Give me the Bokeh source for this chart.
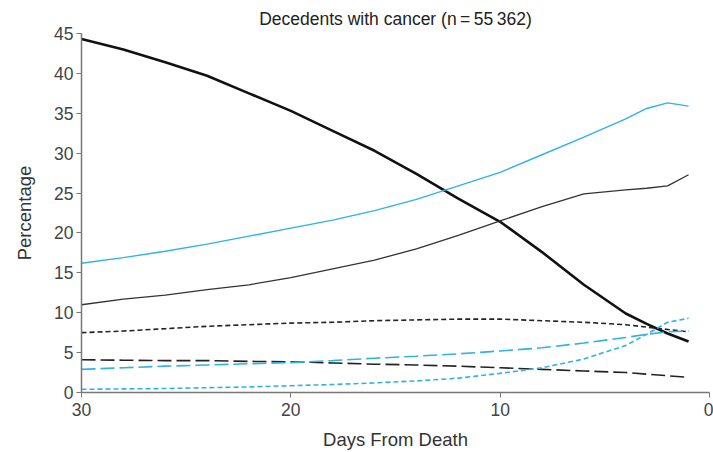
from bokeh.plotting import figure
from bokeh.models import Range1d, FixedTicker
from bokeh.embed import file_html
from bokeh.resources import INLINE

days = [30, 28, 26, 24, 22, 20, 18, 16, 14, 12, 10, 8, 6, 4, 3, 2, 1]

black_thick = [44.3, 43.0, 41.4, 39.7, 37.5, 35.3, 32.8, 30.3, 27.4, 24.3, 21.4, 17.6, 13.5, 9.9, 8.6, 7.4, 6.4]
blue_solid = [16.2, 16.9, 17.7, 18.6, 19.6, 20.6, 21.6, 22.8, 24.2, 25.9, 27.6, 29.8, 32.0, 34.3, 35.6, 36.3, 35.9]
black_thin = [11.0, 11.7, 12.2, 12.9, 13.5, 14.4, 15.5, 16.6, 18.0, 19.7, 21.5, 23.3, 24.9, 25.4, 25.6, 25.9, 27.3]
black_short = [7.5, 7.7, 8.0, 8.3, 8.5, 8.7, 8.8, 9.0, 9.1, 9.2, 9.2, 9.0, 8.8, 8.5, 8.2, 7.9, 7.6]
black_long = [4.1, 4.05, 4.0, 4.0, 3.9, 3.85, 3.7, 3.55, 3.45, 3.3, 3.1, 2.9, 2.7, 2.5, 2.3, 2.1, 1.9]
blue_long = [2.9, 3.1, 3.3, 3.45, 3.6, 3.75, 4.0, 4.3, 4.55, 4.85, 5.2, 5.6, 6.2, 6.9, 7.3, 7.6, 7.7]
blue_short = [0.4, 0.45, 0.5, 0.6, 0.7, 0.85, 1.0, 1.2, 1.45, 1.8, 2.4, 3.1, 4.2, 5.9, 7.3, 8.8, 9.3]

x_ticks = [30, 20, 10, 0]
y_ticks = [0, 5, 10, 15, 20, 25, 30, 35, 40, 45]

BLUE = "#2fb2e6"
BLACK = "#111111"
FONT = "Liberation Sans"

p = figure(width=713, height=452, output_backend="svg", toolbar_location=None,
           x_range=Range1d(30, 0), y_range=Range1d(0, 45),
           title="Decedents with cancer (n\u2009=\u200955\u2009362)",
           min_border_left=81, min_border_right=4, min_border_top=33, min_border_bottom=59)
p.outline_line_color = None
p.xgrid.visible = False
p.ygrid.visible = False
p.background_fill_color = "white"
p.border_fill_color = "white"

p.title.align = "center"
p.title.text_font = FONT
p.title.text_font_style = "normal"
p.title.text_font_size = "17.5px"
p.title.text_color = "#222222"
p.title.offset = 0

for ax in (p.xaxis[0], p.yaxis[0]):
    ax.axis_line_color = "#777777"
    ax.axis_line_width = 1.5
    ax.major_tick_line_color = "#777777"
    ax.major_tick_in = 0
    ax.major_tick_out = 5
    ax.minor_tick_line_color = None
    ax.major_label_text_font = FONT
    ax.major_label_text_font_size = "17.5px"
    ax.major_label_text_color = "#444444"
    ax.axis_label_text_font = FONT
    ax.axis_label_text_font_size = "18.5px"
    ax.axis_label_text_font_style = "normal"
    ax.axis_label_text_color = "#333333"

p.xaxis.ticker = FixedTicker(ticks=x_ticks)
p.yaxis.ticker = FixedTicker(ticks=y_ticks)
p.xaxis.axis_label = "Days From Death"
p.yaxis.axis_label = "Percentage"
p.yaxis.major_label_standoff = 3
p.xaxis.major_label_standoff = 5
p.yaxis.axis_label_standoff = 16
p.xaxis.axis_label_standoff = 10

p.line(days, black_thick, line_color=BLACK, line_width=2.6)
p.line(days, blue_solid, line_color=BLUE, line_width=1.4)
p.line(days, black_thin, line_color="#333333", line_width=1.3)
p.line(days, black_short, line_color="#222222", line_width=1.6, line_dash="5 3")
p.line(days, black_long, line_color="#222222", line_width=1.6, line_dash="14 5")
p.line(days, blue_long, line_color=BLUE, line_width=1.6, line_dash="14 5")
p.line(days, blue_short, line_color=BLUE, line_width=1.6, line_dash="5 3")

open("out.html", "w").write(file_html(p, INLINE))
